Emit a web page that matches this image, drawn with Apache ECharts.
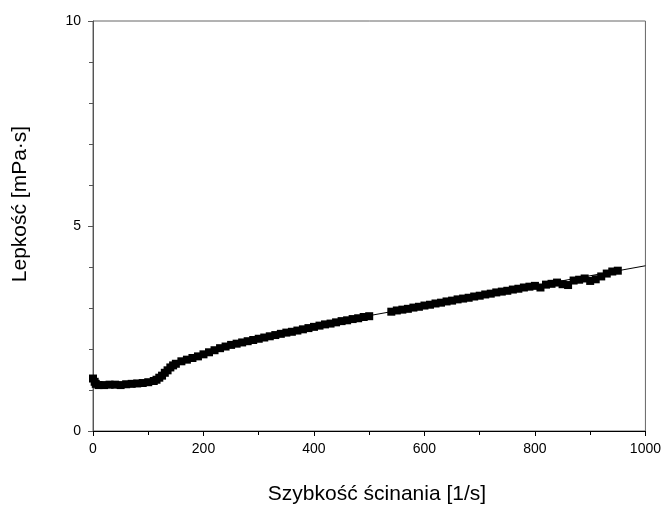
<!DOCTYPE html>
<html><head><meta charset="utf-8">
<script src="https://cdn.jsdelivr.net/npm/echarts@6/dist/echarts.min.js"></script>
<style>html,body{margin:0;padding:0;background:#fff}#c{width:664px;height:506px}</style>
</head><body><div id="c"></div>
<script>
var shearRate = [0,3,5,10,20,30,40,50,60,70,80,90,100,110,115,120,125,130,135,140,145,150,160,170,180,190,200,210,220,230,240,250,260,270,280,290,300,310,320,330,340,350,360,370,380,390,400,410,420,430,440,450,460,470,480,490,500,540,550,560,570,580,590,600,610,620,630,640,650,660,670,680,690,700,710,720,730,740,750,760,770,780,790,800,810,820,830,840,850,860,870,880,890,900,910,920,930,940,950];
var viscosity = [1.28,1.2,1.15,1.12,1.12,1.13,1.13,1.12,1.14,1.15,1.16,1.17,1.19,1.22,1.25,1.30,1.35,1.42,1.48,1.55,1.60,1.64,1.70,1.74,1.78,1.82,1.87,1.92,1.97,2.02,2.06,2.10,2.13,2.16,2.19,2.22,2.25,2.28,2.31,2.34,2.37,2.40,2.42,2.45,2.48,2.51,2.54,2.57,2.60,2.62,2.65,2.68,2.70,2.73,2.75,2.78,2.80,2.91,2.94,2.96,2.98,3.01,3.03,3.06,3.08,3.11,3.13,3.16,3.18,3.21,3.23,3.25,3.28,3.30,3.33,3.35,3.38,3.40,3.42,3.45,3.47,3.50,3.52,3.54,3.50,3.57,3.59,3.62,3.58,3.56,3.67,3.69,3.72,3.66,3.70,3.77,3.84,3.89,3.91];
var fitX = [400, 1000];
var fitY = [2.57, 4.03];
var xTicks = [0,200,400,600,800,1000];
var yTicks = [0,5,10];

var pts = shearRate.map(function(x,i){return [x, viscosity[i]];});
var fit = fitX.map(function(x,i){return [x, fitY[i]];});
var font = 'Liberation Sans, Arial, sans-serif';
var chart = echarts.init(document.getElementById('c'), null, {renderer:'canvas'});
chart.setOption({
  animation:false,
  grid:{left:93,right:15,top:21,bottom:75,show:true,borderColor:'#666',borderWidth:1,backgroundColor:'transparent'},
  graphic:[
    {type:'text',x:377,y:494,style:{text:'Szybkość ścinania [1/s]',fontFamily:font,fontSize:21,fill:'#000',textAlign:'center',textVerticalAlign:'middle'}},
    {type:'text',rotation:Math.PI/2,x:20,y:204,style:{text:'Lepkość [mPa·s]',fontFamily:font,fontSize:21,fill:'#000',textAlign:'center',textVerticalAlign:'middle'}}
  ],
  xAxis:{type:'value',min:0,max:1000,interval:200,
    axisLine:{lineStyle:{color:'#000',width:1}},
    axisTick:{show:true,inside:false,length:5,lineStyle:{color:'#000'}},
    minorTick:{show:true,splitNumber:2,length:4,lineStyle:{color:'#000'}},
    axisLabel:{fontFamily:font,fontSize:14,color:'#000',margin:11,
      formatter:function(v){return xTicks.indexOf(v)>=0?String(v):'';}},
    splitLine:{show:false}},
  yAxis:{type:'value',min:0,max:10,interval:5,
    axisLine:{lineStyle:{color:'#555',width:1}},
    axisTick:{show:true,inside:false,length:5,lineStyle:{color:'#555'}},
    minorTick:{show:true,splitNumber:5,length:4,lineStyle:{color:'#555'}},
    axisLabel:{fontFamily:font,fontSize:14,color:'#000',margin:12,
      formatter:function(v){return yTicks.indexOf(v)>=0?String(v):'';}},
    splitLine:{show:false}},
  series:[
    {type:'line',data:fit,symbol:'none',lineStyle:{color:'#000',width:1},z:2},
    {type:'scatter',data:pts,symbol:'rect',symbolSize:8,itemStyle:{color:'#000',opacity:1},z:3}
  ]
});
</script></body></html>
